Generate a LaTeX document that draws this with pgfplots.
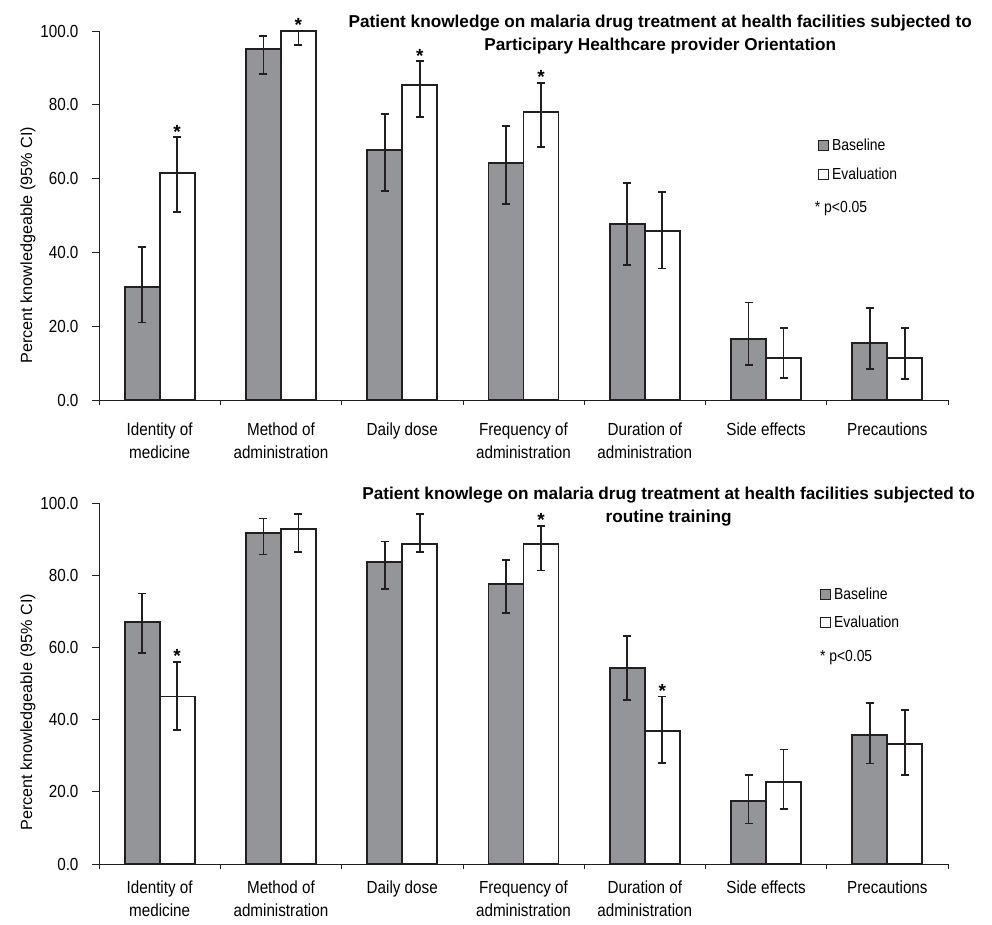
\documentclass[border=0pt]{standalone}
\usepackage{fontspec}
\setmainfont{Liberation Sans}
\newfontfamily\narrowfont{Liberation Sans}[FakeStretch=0.87]
\usepackage{pgfplots}
\pgfplotsset{compat=1.18}
\definecolor{barGray}{RGB}{147,149,152}
\definecolor{ink}{RGB}{35,31,32}
\newcommand\tickfont{\narrowfont\fontsize{17.5}{23.4}\selectfont}
\newcommand\ylabfont{\fontsize{16.2}{18}\selectfont}
\newcommand\legfont{\narrowfont\fontsize{16}{18}\selectfont}
\newcommand\titfont{\bfseries\fontsize{17.2}{22.6}\selectfont}
\newcommand\starfont{\bfseries\fontsize{19}{20}\selectfont}
\pgfplotsset{
  panel/.style={
    scale only axis, width=849pt,
    anchor=south west,
    xmin=-0.5, xmax=6.5, ymin=0, ymax=100,
    ybar=0pt, bar width=35pt,
    clip=false,
    axis x line*=bottom, axis y line*=left,
    axis line style={-, line width=0.9pt, color=ink},
    xtick={0,...,6},
    xticklabels={{Identity of\\medicine},{Method of\\administration},{Daily dose},{Frequency of\\administration},{Duration of\\administration},{Side effects},{Precautions}},
    xticklabel style={align=center, font=\tickfont, anchor=north, yshift=-12pt},
    major x tick style={draw=none},
    minor xtick={-0.5,0.5,...,6.5},
    minor x tick style={line width=0.7pt, color=ink},
    minor tick length=5pt,
    ytick={0,20,...,100},
    yticklabel={\pgfmathprintnumber[fixed,fixed zerofill,precision=1,assume math mode=true]{\tick}},
    yticklabel style={font=\tickfont, anchor=east, xshift=-10pt},
    major y tick style={line width=0.7pt, color=ink},
    major tick length=7pt,
    tick align=outside,
    ylabel={Percent knowledgeable (95\% CI)},
    ylabel style={font=\ylabfont, at={(axis description cs:-0.0836,0.42)}, anchor=center},
    legend style={draw=none, fill=none, inner sep=0pt, legend cell align=left,
      row sep=15.6pt, column sep=3pt, font=\legfont,
      nodes={inner sep=0pt}},
    title style={font=\titfont, align=center, anchor=north, inner sep=0pt},
  },
  errstyle/.style={
    error bars/y dir=both, error bars/y explicit,
    error bars/error bar style={line width=1.7pt, color=ink},
    error bars/error mark options={rotate=90, mark size=4pt, line width=1.7pt, color=ink}},
  basebar/.style={fill=barGray, draw=ink, line width=1.9pt, errstyle,
    legend image code/.code={\draw[fill=barGray, draw=ink, line width=1.2pt] (0pt,-5pt) rectangle (10pt,5pt);}},
  evalbar/.style={fill=white, draw=ink, line width=1.9pt, errstyle,
    legend image code/.code={\draw[fill=white, draw=ink, line width=1.2pt] (0pt,-5pt) rectangle (10pt,5pt);}},
}
\begin{document}
\begin{tikzpicture}
\path (0pt,0pt) rectangle (992pt,924pt);
% ---------------- Top panel ----------------
\begin{axis}[panel, at={(99pt,524pt)}, height=369pt,
  title={Patient knowledge on malaria drug treatment at health facilities subjected to\\Participary Healthcare provider Orientation},
  title style={at={(axis description cs:0.661,1.0266)}},
  legend style={at={(axis description cs:0.8465,0.650)}, anchor=west}]
\addplot[basebar] coordinates {
  (0,30.6) += (0,10.9) -= (0,9.6)
  (1,95.1) += (0,3.5) -= (0,6.8)
  (2,67.8) += (0,9.7) -= (0,11.1)
  (3,64.2) += (0,10.1) -= (0,11.0)
  (4,47.7) += (0,11.1) -= (0,11.1)
  (5,16.6) += (0,9.8) -= (0,7.2)
  (6,15.5) += (0,9.5) -= (0,7.1)
};
\addlegendentry{Baseline}
\addplot[evalbar] coordinates {
  (0,61.4) += (0,9.8) -= (0,10.5)
  (1,100.0) += (0,0.0) -= (0,3.8)
  (2,85.4) += (0,6.4) -= (0,8.8)
  (3,78.0) += (0,8.0) -= (0,9.5)
  (4,45.9) += (0,10.4) -= (0,10.3)
  (5,11.5) += (0,8.1) -= (0,5.6)
  (6,11.5) += (0,8.1) -= (0,5.8)
};
\addlegendentry{Evaluation}
\node[font=\legfont, anchor=west, inner sep=0pt] at (axis description cs:0.843,0.5176) {* p<0.05};
\node[font=\starfont, anchor=base, inner sep=0pt, xshift=17.5pt, yshift=-1pt] at (axis cs:0,71.2) {*};
\node[font=\starfont, anchor=base, inner sep=0pt, xshift=17.5pt, yshift=-1pt] at (axis cs:1,100.0) {*};
\node[font=\starfont, anchor=base, inner sep=0pt, xshift=17.5pt, yshift=-1pt] at (axis cs:2,91.8) {*};
\node[font=\starfont, anchor=base, inner sep=0pt, xshift=17.5pt, yshift=-1pt] at (axis cs:3,86.0) {*};
\end{axis}
% ---------------- Bottom panel ----------------
\begin{axis}[panel, at={(99pt,60pt)}, height=361pt,
  xticklabel style={yshift=6pt},
  title={Patient knowlege on malaria drug treatment at health facilities subjected to\\routine training},
  title style={at={(axis description cs:0.671,1.0272)}},
  legend style={at={(axis description cs:0.849,0.7078)}, anchor=west}]
\addplot[basebar] coordinates {
  (0,67.1) += (0,7.8) -= (0,8.7)
  (1,91.8) += (0,3.9) -= (0,6.1)
  (2,83.6) += (0,5.7) -= (0,7.4)
  (3,77.6) += (0,6.7) -= (0,8.1)
  (4,54.4) += (0,8.7) -= (0,8.9)
  (5,17.4) += (0,7.3) -= (0,6.2)
  (6,35.8) += (0,8.8) -= (0,8.0)
};
\addlegendentry{Baseline}
\addplot[evalbar] coordinates {
  (0,46.4) += (0,9.6) -= (0,9.3)
  (1,92.9) += (0,4.0) -= (0,6.4)
  (2,88.6) += (0,8.3) -= (0,2.1)
  (3,88.6) += (0,5.1) -= (0,7.3)
  (4,36.9) += (0,9.5) -= (0,8.9)
  (5,22.8) += (0,8.9) -= (0,7.5)
  (6,33.3) += (0,9.4) -= (0,8.6)
};
\addlegendentry{Evaluation}
\node[font=\legfont, anchor=west, inner sep=0pt] at (axis description cs:0.849,0.5706) {* p<0.05};
\node[font=\starfont, anchor=base, inner sep=0pt, xshift=17.5pt, yshift=-1pt] at (axis cs:0,56.0) {*};
\node[font=\starfont, anchor=base, inner sep=0pt, xshift=17.5pt, yshift=-1pt] at (axis cs:3,93.7) {*};
\node[font=\starfont, anchor=base, inner sep=0pt, xshift=17.5pt, yshift=-1pt] at (axis cs:4,46.4) {*};
\end{axis}
\end{tikzpicture}
\end{document}
